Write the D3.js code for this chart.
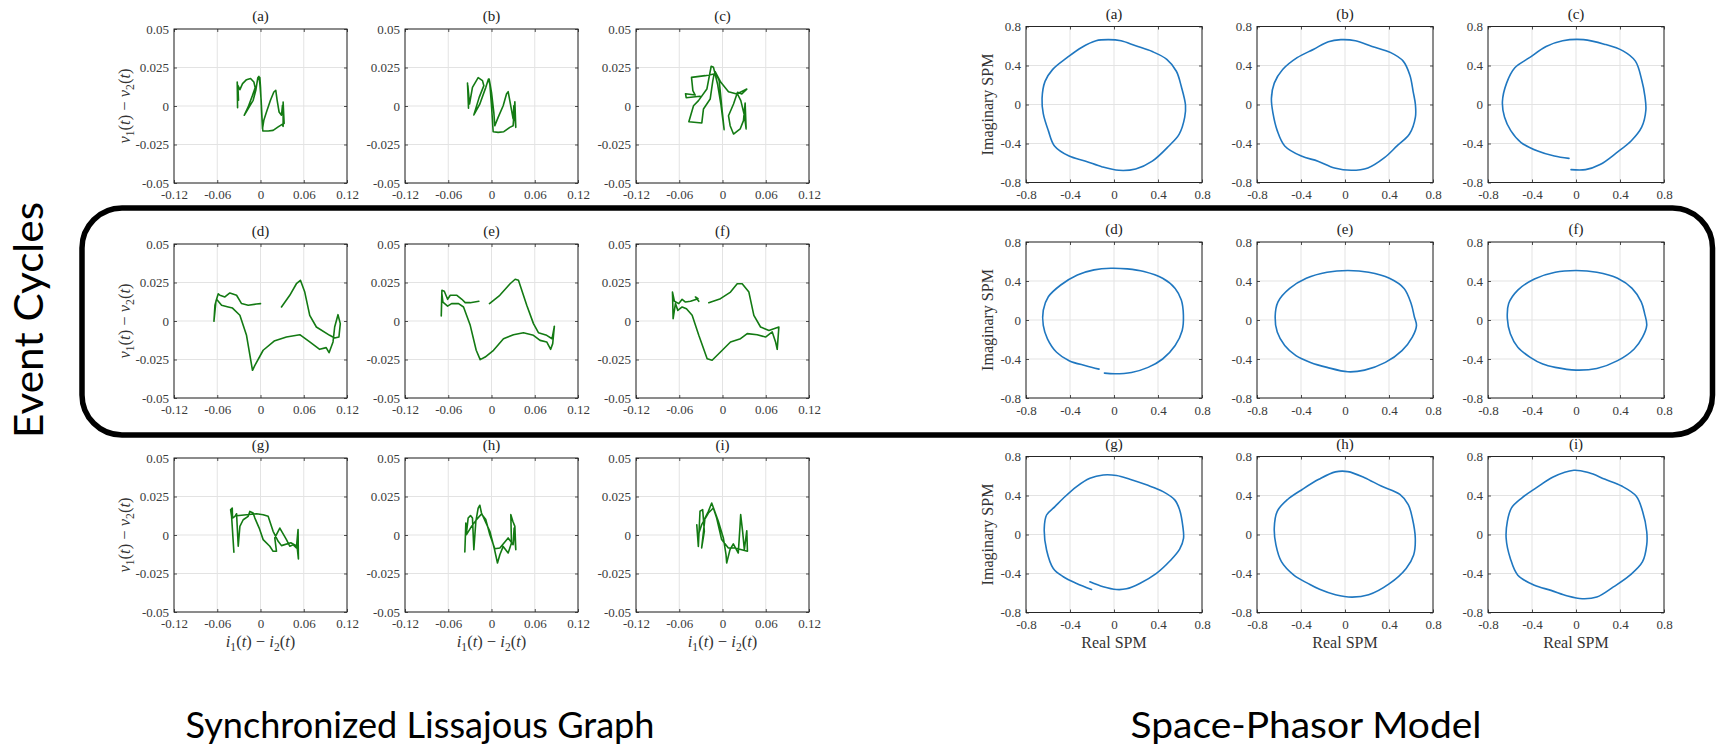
<!DOCTYPE html>
<html>
<head>
<meta charset="utf-8">
<script src="https://cdn.jsdelivr.net/npm/d3@7"></script>
<style>
  html, body { margin: 0; background: #fff; }
  svg { display: block; }
</style>
</head>
<body>
<svg id="fig" width="1717" height="752"></svg>
<script>
// ---------------- data ----------------
const panelTags = ["(a)", "(b)", "(c)", "(d)", "(e)", "(f)", "(g)", "(h)", "(i)"];

const lissXTicks = [-0.12, -0.06, 0, 0.06, 0.12];
const lissXTickLabels = ["-0.12", "-0.06", "0", "0.06", "0.12"];
const lissYTicks = [-0.05, -0.025, 0, 0.025, 0.05];
const lissYTickLabels = ["-0.05", "-0.025", "0", "0.025", "0.05"];
const spmTicks = [-0.8, -0.4, 0, 0.4, 0.8];
const spmTickLabels = ["-0.8", "-0.4", "0", "0.4", "0.8"];

// Lissajous traces: [i1(t) - i2(t), v1(t) - v2(t)]
const lissA = [[-0.0318,-0.0011],[-0.0323,0.0156],[-0.0305,0.0037],[-0.0314,0.0134],[-0.0286,0.0106],[-0.0249,0.0145],[-0.0194,0.0171],[-0.0138,0.0179],[-0.0092,0.0156],[-0.0074,0.0119],[-0.0111,0.0069],[-0.0171,-0.0006],[-0.0226,-0.0060],[-0.0102,0.0037],[-0.0065,0.0102],[-0.0037,0.0184],[-0.0023,0.0192],[-0.0009,0.0145],[0.0009,0.0037],[0.0023,-0.0093],[0.0032,-0.0162],[0.0106,-0.0162],[0.0175,-0.0158],[0.0245,-0.0136],[0.0300,-0.0119],[0.0314,-0.0132],[0.0314,0.0026],[0.0328,-0.0114],[0.0305,0.0004],[0.0291,-0.0060],[0.0258,-0.0039],[0.0231,0.0037],[0.0212,0.0102],[0.0185,0.0091],[0.0138,0.0037],[0.0083,-0.0039],[0.0046,-0.0093],[0.0028,-0.0147],[0.0014,-0.0028],[0.0000,0.0123],[-0.0009,0.0184]];
const lissB = [[-0.0333,0.0149],[-0.0319,-0.0015],[-0.0328,0.0132],[-0.0305,0.0013],[-0.0264,0.0121],[-0.0185,0.0184],[-0.0125,0.0165],[-0.0106,0.0132],[-0.0171,0.0056],[-0.0245,-0.0058],[-0.0162,0.0013],[-0.0079,0.0121],[-0.0042,0.0175],[-0.0023,0.0143],[0.0000,0.0002],[0.0023,-0.0167],[0.0092,-0.0171],[0.0171,-0.0167],[0.0254,-0.0139],[0.0300,-0.0128],[0.0324,0.0028],[0.0337,-0.0139],[0.0310,0.0002],[0.0300,-0.0084],[0.0254,0.0035],[0.0231,0.0093],[0.0208,0.0078],[0.0162,0.0002],[0.0092,-0.0074],[0.0046,-0.0128],[0.0032,-0.0041],[0.0000,0.0089],[-0.0032,0.0175]];
const lissC = [[-0.0310,0.0063],[-0.0504,0.0054],[-0.0513,0.0080],[-0.0379,0.0071],[-0.0411,0.0100],[-0.0430,0.0186],[-0.0240,0.0197],[-0.0116,0.0208],[-0.0134,0.0165],[-0.0171,0.0045],[-0.0264,-0.0019],[-0.0287,-0.0110],[-0.0467,-0.0102],[-0.0402,0.0002],[-0.0333,0.0035],[-0.0217,0.0110],[-0.0157,0.0258],[-0.0125,0.0251],[-0.0069,0.0143],[-0.0023,0.0013],[0.0023,-0.0154],[-0.0005,-0.0030],[-0.0046,0.0165],[-0.0102,0.0223],[-0.0023,0.0154],[0.0083,0.0093],[0.0199,0.0078],[0.0337,0.0110],[0.0268,0.0078],[0.0208,0.0089],[0.0153,0.0013],[0.0083,-0.0063],[0.0106,-0.0128],[0.0153,-0.0182],[0.0245,-0.0149],[0.0291,-0.0095],[0.0314,0.0019],[0.0328,-0.0149],[0.0305,-0.0063],[0.0254,0.0035],[0.0208,0.0078]];
const lissD = [[0.0000,0.0113],[-0.0055,0.0110],[-0.0171,0.0102],[-0.0263,0.0113],[-0.0332,0.0167],[-0.0425,0.0182],[-0.0494,0.0156],[-0.0563,0.0167],[-0.0586,0.0177],[-0.0618,0.0128],[-0.0646,-0.0002],[-0.0632,0.0102],[-0.0609,0.0141],[-0.0540,0.0102],[-0.0448,0.0091],[-0.0388,0.0084],[-0.0286,0.0037],[-0.0194,-0.0093],[-0.0111,-0.0320],[-0.0078,-0.0288],[0.0037,-0.0190],[0.0189,-0.0130],[0.0360,-0.0104],[0.0545,-0.0089],[0.0683,-0.0136],[0.0821,-0.0184],[0.0911,-0.0173],[0.0951,-0.0206],[0.1006,-0.0136],[0.1029,-0.0039],[0.1075,0.0041],[0.1107,-0.0017],[0.1088,-0.0104],[0.1029,-0.0110],[0.0960,-0.0093],[0.0775,-0.0039],[0.0683,0.0037],[0.0614,0.0188],[0.0554,0.0264],[0.0498,0.0242],[0.0406,0.0167],[0.0291,0.0091]];
const lissE = [[-0.0175,0.0128],[-0.0295,0.0119],[-0.0365,0.0119],[-0.0411,0.0141],[-0.0480,0.0167],[-0.0572,0.0167],[-0.0609,0.0141],[-0.0655,0.0193],[-0.0688,0.0199],[-0.0697,0.0032],[-0.0688,0.0177],[-0.0674,0.0123],[-0.0609,0.0097],[-0.0554,0.0113],[-0.0457,0.0113],[-0.0388,0.0091],[-0.0295,-0.0028],[-0.0212,-0.0190],[-0.0157,-0.0251],[-0.0088,-0.0234],[0.0028,-0.0190],[0.0166,-0.0115],[0.0305,-0.0089],[0.0443,-0.0076],[0.0582,-0.0093],[0.0674,-0.0126],[0.0766,-0.0136],[0.0821,-0.0184],[0.0849,-0.0147],[0.0872,-0.0035],[0.0840,-0.0115],[0.0766,-0.0093],[0.0651,-0.0076],[0.0582,-0.0017],[0.0489,0.0102],[0.0374,0.0264],[0.0328,0.0271],[0.0258,0.0242],[0.0115,0.0167],[-0.0028,0.0113]];
const lissF = [[-0.0329,0.0128],[-0.0375,0.0156],[-0.0340,0.0145],[-0.0444,0.0128],[-0.0514,0.0123],[-0.0560,0.0141],[-0.0606,0.0113],[-0.0667,0.0128],[-0.0694,0.0188],[-0.0685,0.0015],[-0.0653,0.0113],[-0.0620,0.0069],[-0.0560,0.0091],[-0.0500,0.0080],[-0.0421,0.0037],[-0.0329,-0.0093],[-0.0213,-0.0245],[-0.0144,-0.0255],[-0.0028,-0.0201],[0.0111,-0.0136],[0.0250,-0.0115],[0.0343,-0.0082],[0.0481,-0.0089],[0.0597,-0.0104],[0.0690,-0.0071],[0.0736,-0.0136],[0.0759,-0.0184],[0.0782,-0.0039],[0.0644,-0.0061],[0.0528,-0.0039],[0.0435,0.0037],[0.0366,0.0188],[0.0273,0.0242],[0.0204,0.0242],[0.0111,0.0188],[-0.0028,0.0145],[-0.0190,0.0119]];
const lissG = [[-0.0369,-0.0112],[-0.0401,0.0121],[-0.0415,0.0164],[-0.0392,0.0175],[-0.0388,0.0110],[-0.0355,0.0121],[-0.0332,0.0138],[-0.0309,-0.0073],[-0.0286,0.0056],[-0.0240,0.0099],[-0.0171,0.0121],[-0.0148,0.0153],[-0.0102,0.0143],[-0.0078,0.0110],[-0.0018,0.0045],[0.0037,-0.0030],[0.0129,-0.0073],[0.0175,-0.0106],[0.0222,-0.0106],[0.0198,-0.0019],[0.0268,0.0045],[0.0360,-0.0030],[0.0406,-0.0073],[0.0452,-0.0063],[0.0498,-0.0084],[0.0521,0.0035],[0.0526,-0.0156],[0.0507,-0.0073],[0.0420,-0.0050],[0.0291,-0.0069],[0.0245,-0.0041],[0.0175,0.0024],[0.0106,0.0121],[0.0037,0.0132],[-0.0055,0.0138],[-0.0194,0.0132],[-0.0332,0.0125]];
const lissH = [[-0.0370,-0.0110],[-0.0356,0.0078],[-0.0347,0.0013],[-0.0324,0.0110],[-0.0291,0.0126],[-0.0264,0.0110],[-0.0245,-0.0095],[-0.0217,0.0089],[-0.0185,0.0175],[-0.0162,0.0193],[-0.0139,0.0143],[-0.0023,0.0024],[0.0037,-0.0084],[0.0083,-0.0182],[0.0116,-0.0128],[0.0162,-0.0074],[0.0231,-0.0117],[0.0277,-0.0052],[0.0268,0.0132],[0.0296,0.0089],[0.0324,0.0056],[0.0337,-0.0095],[0.0314,0.0045],[0.0300,-0.0063],[0.0231,-0.0019],[0.0116,-0.0084],[0.0046,-0.0089],[-0.0023,0.0002],[-0.0079,0.0100],[-0.0139,0.0136],[-0.0208,0.0100],[-0.0277,0.0056],[-0.0347,0.0002]];
const lissI = [[-0.0357,0.0067],[-0.0335,-0.0074],[-0.0312,0.0154],[-0.0275,0.0165],[-0.0252,0.0024],[-0.0289,-0.0084],[-0.0243,0.0110],[-0.0196,0.0154],[-0.0150,0.0208],[-0.0058,0.0089],[0.0012,-0.0019],[0.0049,-0.0128],[0.0058,-0.0182],[0.0104,-0.0095],[0.0150,-0.0058],[0.0219,-0.0117],[0.0243,0.0056],[0.0252,0.0132],[0.0280,0.0019],[0.0303,-0.0095],[0.0337,0.0028],[0.0346,-0.0106],[0.0173,-0.0084],[0.0081,-0.0084],[-0.0012,-0.0030],[-0.0081,0.0110],[-0.0127,0.0175],[-0.0196,0.0143],[-0.0289,0.0067],[-0.0335,0.0002]];

// Space-phasor traces: [real, imaginary]
const spmA = [[-0.049,0.665],[0.064,0.654],[0.197,0.602],[0.348,0.543],[0.480,0.463],[0.567,0.341],[0.612,0.184],[0.650,-0.007],[0.643,-0.129],[0.593,-0.303],[0.499,-0.425],[0.348,-0.581],[0.197,-0.661],[0.045,-0.675],[-0.106,-0.640],[-0.257,-0.581],[-0.408,-0.529],[-0.541,-0.425],[-0.597,-0.268],[-0.643,-0.094],[-0.654,0.063],[-0.627,0.237],[-0.559,0.358],[-0.427,0.480],[-0.295,0.585],[-0.163,0.654]];
const spmB = [[-0.038,0.665],[0.095,0.654],[0.246,0.595],[0.416,0.532],[0.529,0.445],[0.590,0.300],[0.620,0.130],[0.640,0.000],[0.640,-0.129],[0.586,-0.303],[0.473,-0.425],[0.359,-0.546],[0.208,-0.651],[0.057,-0.675],[-0.095,-0.651],[-0.246,-0.581],[-0.397,-0.529],[-0.548,-0.425],[-0.616,-0.268],[-0.654,-0.094],[-0.669,0.063],[-0.643,0.219],[-0.567,0.358],[-0.435,0.480],[-0.284,0.567],[-0.151,0.644]];
const spmC = [[-0.045,-0.668],[0.087,-0.668],[0.219,-0.616],[0.370,-0.494],[0.503,-0.372],[0.597,-0.233],[0.635,-0.059],[0.627,0.080],[0.597,0.254],[0.540,0.445],[0.427,0.550],[0.257,0.619],[0.068,0.665],[-0.121,0.654],[-0.272,0.595],[-0.423,0.480],[-0.556,0.376],[-0.631,0.219],[-0.669,0.028],[-0.650,-0.129],[-0.593,-0.268],[-0.499,-0.390],[-0.348,-0.477],[-0.197,-0.529],[-0.064,-0.553]];
const spmD = [[-0.087,-0.545],[0.008,-0.552],[0.159,-0.538],[0.310,-0.486],[0.442,-0.400],[0.556,-0.262],[0.620,-0.107],[0.631,0.048],[0.612,0.204],[0.556,0.324],[0.442,0.428],[0.272,0.497],[0.121,0.524],[-0.030,0.531],[-0.181,0.514],[-0.333,0.462],[-0.484,0.359],[-0.597,0.238],[-0.643,0.100],[-0.643,-0.055],[-0.605,-0.193],[-0.522,-0.331],[-0.408,-0.417],[-0.257,-0.469],[-0.136,-0.504]];
const spmE = [[-0.163,-0.486],[0.026,-0.531],[0.178,-0.514],[0.367,-0.435],[0.518,-0.314],[0.612,-0.176],[0.650,-0.055],[0.631,0.031],[0.601,0.169],[0.537,0.324],[0.404,0.428],[0.215,0.490],[0.026,0.507],[-0.163,0.490],[-0.352,0.428],[-0.503,0.324],[-0.609,0.186],[-0.635,0.031],[-0.616,-0.124],[-0.548,-0.262],[-0.446,-0.366],[-0.314,-0.435]];
const spmF = [[-0.189,-0.486],[0.000,-0.514],[0.189,-0.497],[0.378,-0.417],[0.529,-0.297],[0.605,-0.176],[0.643,-0.055],[0.624,0.066],[0.593,0.186],[0.510,0.324],[0.378,0.428],[0.189,0.490],[0.000,0.507],[-0.189,0.490],[-0.378,0.421],[-0.529,0.307],[-0.612,0.169],[-0.624,0.014],[-0.597,-0.141],[-0.529,-0.279],[-0.416,-0.383],[-0.302,-0.452]];
const spmG = [[-0.219,-0.485],[-0.098,-0.536],[0.023,-0.564],[0.113,-0.557],[0.234,-0.502],[0.386,-0.399],[0.510,-0.270],[0.597,-0.150],[0.632,-0.040],[0.626,0.080],[0.597,0.252],[0.552,0.355],[0.446,0.440],[0.295,0.509],[0.144,0.567],[0.023,0.605],[-0.098,0.611],[-0.219,0.577],[-0.340,0.492],[-0.461,0.372],[-0.537,0.286],[-0.613,0.200],[-0.634,0.063],[-0.613,-0.159],[-0.552,-0.348],[-0.461,-0.433],[-0.340,-0.502],[-0.204,-0.564]];
const spmH = [[-0.231,-0.562],[-0.087,-0.618],[0.064,-0.642],[0.215,-0.618],[0.404,-0.504],[0.556,-0.348],[0.624,-0.210],[0.639,-0.038],[0.612,0.169],[0.575,0.307],[0.499,0.411],[0.329,0.497],[0.178,0.583],[0.026,0.645],[-0.087,0.642],[-0.238,0.566],[-0.389,0.462],[-0.522,0.359],[-0.616,0.238],[-0.643,0.066],[-0.628,-0.107],[-0.578,-0.279],[-0.465,-0.417],[-0.333,-0.504]];
const spmI = [[-0.019,0.659],[0.113,0.635],[0.265,0.566],[0.416,0.497],[0.548,0.393],[0.605,0.238],[0.643,0.031],[0.643,-0.107],[0.605,-0.279],[0.491,-0.417],[0.340,-0.538],[0.189,-0.642],[0.057,-0.659],[-0.076,-0.631],[-0.227,-0.573],[-0.378,-0.521],[-0.529,-0.417],[-0.597,-0.245],[-0.635,-0.038],[-0.624,0.135],[-0.586,0.273],[-0.491,0.376],[-0.359,0.480],[-0.208,0.590]];
const spmClosed = [true, true, false, false, true, true, false, true, true];

const lissTraces = [lissA, lissB, lissC, lissD, lissE, lissF, lissG, lissH, lissI];
const spmTraces = [spmA, spmB, spmC, spmD, spmE, spmF, spmG, spmH, spmI];

// ---------------- layout ----------------
const SERIF = "'Liberation Serif', 'Times New Roman', serif";
const SANS = "Lato, 'Open Sans', 'Liberation Sans', sans-serif";
const AXIS_COLOR = "#262626";
const TICK_TEXT = "#3a3a3a";
const GRID_COLOR = "#e3e3e3";

const lissLayout = { cols: [174, 405, 636], rows: [29, 244, 458], w: 173, h: 154 };
const spmLayout  = { cols: [1026, 1257, 1488], rows: [26.5, 242, 456.5], w: 176, h: 156 };

const svg = d3.select("#fig");
svg.append("rect").attr("width", 1717).attr("height", 752).attr("fill", "#fff");

// Rounded frame around the middle row
svg.append("rect")
  .attr("x", 82).attr("y", 208)
  .attr("width", 1712.5 - 82).attr("height", 435 - 208)
  .attr("rx", 40).attr("ry", 40)
  .attr("fill", "none").attr("stroke", "#000").attr("stroke-width", 5.5);

// write a math-style label from parts: {t, it, sub}
function mathText(textSel, parts, size) {
  let shifted = false;
  parts.forEach(p => {
    const ts = textSel.append("tspan").text(p.t);
    if (p.it) ts.attr("font-style", "italic");
    if (p.sub) {
      ts.attr("font-size", size * 0.7).attr("dy", size * 0.25);
      shifted = true;
    } else if (shifted) {
      ts.attr("dy", -size * 0.25);
      shifted = false;
    }
  });
}

const vLabel = [{t: "v", it: true}, {t: "1", sub: true}, {t: "("}, {t: "t", it: true}, {t: ") \u2212 "},
                {t: "v", it: true}, {t: "2", sub: true}, {t: "("}, {t: "t", it: true}, {t: ")"}];
const iLabel = [{t: "i", it: true}, {t: "1", sub: true}, {t: "("}, {t: "t", it: true}, {t: ") \u2212 "},
                {t: "i", it: true}, {t: "2", sub: true}, {t: "("}, {t: "t", it: true}, {t: ")"}];

function drawPanel(opt) {
  const { left, top, w, h, xDom, yDom, xTicks, xLabels, yTicks, yLabels,
          data, color, curve, tag, xPad } = opt;
  const x = d3.scaleLinear().domain(xDom).range([0, w]);
  const y = d3.scaleLinear().domain(yDom).range([h, 0]);
  const g = svg.append("g").attr("transform", `translate(${left},${top})`);

  // grid
  g.append("g").selectAll("line").data(xTicks).join("line")
    .attr("x1", d => x(d)).attr("x2", d => x(d)).attr("y1", 0).attr("y2", h)
    .attr("stroke", GRID_COLOR).attr("stroke-width", 1);
  g.append("g").selectAll("line").data(yTicks).join("line")
    .attr("y1", d => y(d)).attr("y2", d => y(d)).attr("x1", 0).attr("x2", w)
    .attr("stroke", GRID_COLOR).attr("stroke-width", 1);

  // trace
  const line = d3.line().x(d => x(d[0])).y(d => y(d[1])).curve(curve);
  g.append("path").datum(data).attr("d", line)
    .attr("fill", "none").attr("stroke", color).attr("stroke-width", 1.6)
    .attr("stroke-linejoin", "round").attr("stroke-linecap", "round");

  // axes with inward ticks on all four sides
  const fmtX = d => xLabels[xTicks.indexOf(d)];
  const fmtY = d => yLabels[yTicks.indexOf(d)];
  const styleAxis = sel => {
    sel.select(".domain").remove();
    sel.selectAll(".tick line").attr("stroke", AXIS_COLOR).attr("stroke-width", 0.8);
    sel.selectAll(".tick text").attr("fill", TICK_TEXT)
      .attr("font-family", SERIF).attr("font-size", 13);
  };
  g.append("g").attr("transform", `translate(0,${h})`)
    .call(d3.axisBottom(x).tickValues(xTicks).tickFormat(fmtX).tickSize(-3).tickPadding(xPad))
    .call(styleAxis);
  g.append("g")
    .call(d3.axisLeft(y).tickValues(yTicks).tickFormat(fmtY).tickSize(-3).tickPadding(5))
    .call(styleAxis);
  g.append("g")
    .call(d3.axisTop(x).tickValues(xTicks).tickFormat("").tickSize(-3))
    .call(styleAxis);
  g.append("g").attr("transform", `translate(${w},0)`)
    .call(d3.axisRight(y).tickValues(yTicks).tickFormat("").tickSize(-3))
    .call(styleAxis);

  // box
  g.append("rect").attr("width", w).attr("height", h)
    .attr("fill", "none").attr("stroke", AXIS_COLOR).attr("stroke-width", 1);

  // panel tag
  g.append("text").attr("x", w / 2).attr("y", -8)
    .attr("text-anchor", "middle").attr("font-family", SERIF).attr("font-size", 15)
    .attr("fill", "#222").text(tag);
  return g;
}

// ---------- Lissajous panels ----------
lissTraces.forEach((tr, k) => {
  const r = Math.floor(k / 3), c = k % 3;
  const left = lissLayout.cols[c], top = lissLayout.rows[r];
  const g = drawPanel({
    left, top, w: lissLayout.w, h: lissLayout.h,
    xDom: [-0.12, 0.12], yDom: [-0.05, 0.05],
    xTicks: lissXTicks, xLabels: lissXTickLabels,
    yTicks: lissYTicks, yLabels: lissYTickLabels,
    data: tr, color: "#137a13", curve: d3.curveLinear, tag: panelTags[k], xPad: 7
  });
  if (c === 0) {
    const t = g.append("text")
      .attr("transform", `translate(${130 - left},${lissLayout.h / 2}) rotate(-90)`)
      .attr("text-anchor", "middle").attr("font-family", SERIF).attr("fill", "#333")
      .attr("font-size", 16.5);
    mathText(t, vLabel, 16.5);
  }
  if (r === 2) {
    const t = g.append("text")
      .attr("x", lissLayout.w / 2).attr("y", lissLayout.h + 35)
      .attr("text-anchor", "middle").attr("font-family", SERIF).attr("fill", "#333")
      .attr("font-size", 16.5);
    mathText(t, iLabel, 16.5);
  }
});

// ---------- Space-phasor panels ----------
spmTraces.forEach((tr, k) => {
  const r = Math.floor(k / 3), c = k % 3;
  const left = spmLayout.cols[c], top = spmLayout.rows[r];
  const g = drawPanel({
    left, top, w: spmLayout.w, h: spmLayout.h,
    xDom: [-0.8, 0.8], yDom: [-0.8, 0.8],
    xTicks: spmTicks, xLabels: spmTickLabels,
    yTicks: spmTicks, yLabels: spmTickLabels,
    data: tr, color: "#1f77c0",
    curve: spmClosed[k] ? d3.curveCatmullRomClosed : d3.curveCatmullRom,
    tag: panelTags[k], xPad: 7.5
  });
  if (c === 0) {
    g.append("text")
      .attr("transform", `translate(${993 - left},${spmLayout.h / 2}) rotate(-90)`)
      .attr("text-anchor", "middle").attr("font-family", SERIF).attr("fill", "#333")
      .attr("font-size", 16).text("Imaginary SPM");
  }
  if (r === 2) {
    g.append("text")
      .attr("x", spmLayout.w / 2).attr("y", spmLayout.h + 35)
      .attr("text-anchor", "middle").attr("font-family", SERIF).attr("fill", "#333")
      .attr("font-size", 16).text("Real SPM");
  }
});

// ---------- captions ----------
svg.append("text")
  .attr("transform", "translate(43,320) rotate(-90)")
  .attr("text-anchor", "middle").attr("font-family", SANS).attr("font-size", 40)
  .attr("textLength", 236).attr("lengthAdjust", "spacingAndGlyphs")
  .attr("fill", "#000").text("Event Cycles");

svg.append("text")
  .attr("x", 420).attr("y", 738)
  .attr("text-anchor", "middle").attr("font-family", SANS).attr("font-size", 37)
  .attr("textLength", 469).attr("lengthAdjust", "spacingAndGlyphs")
  .attr("fill", "#000").text("Synchronized Lissajous Graph");

svg.append("text")
  .attr("x", 1306).attr("y", 738)
  .attr("text-anchor", "middle").attr("font-family", SANS).attr("font-size", 37)
  .attr("textLength", 351).attr("lengthAdjust", "spacingAndGlyphs")
  .attr("fill", "#000").text("Space-Phasor Model");
</script>
</body>
</html>
